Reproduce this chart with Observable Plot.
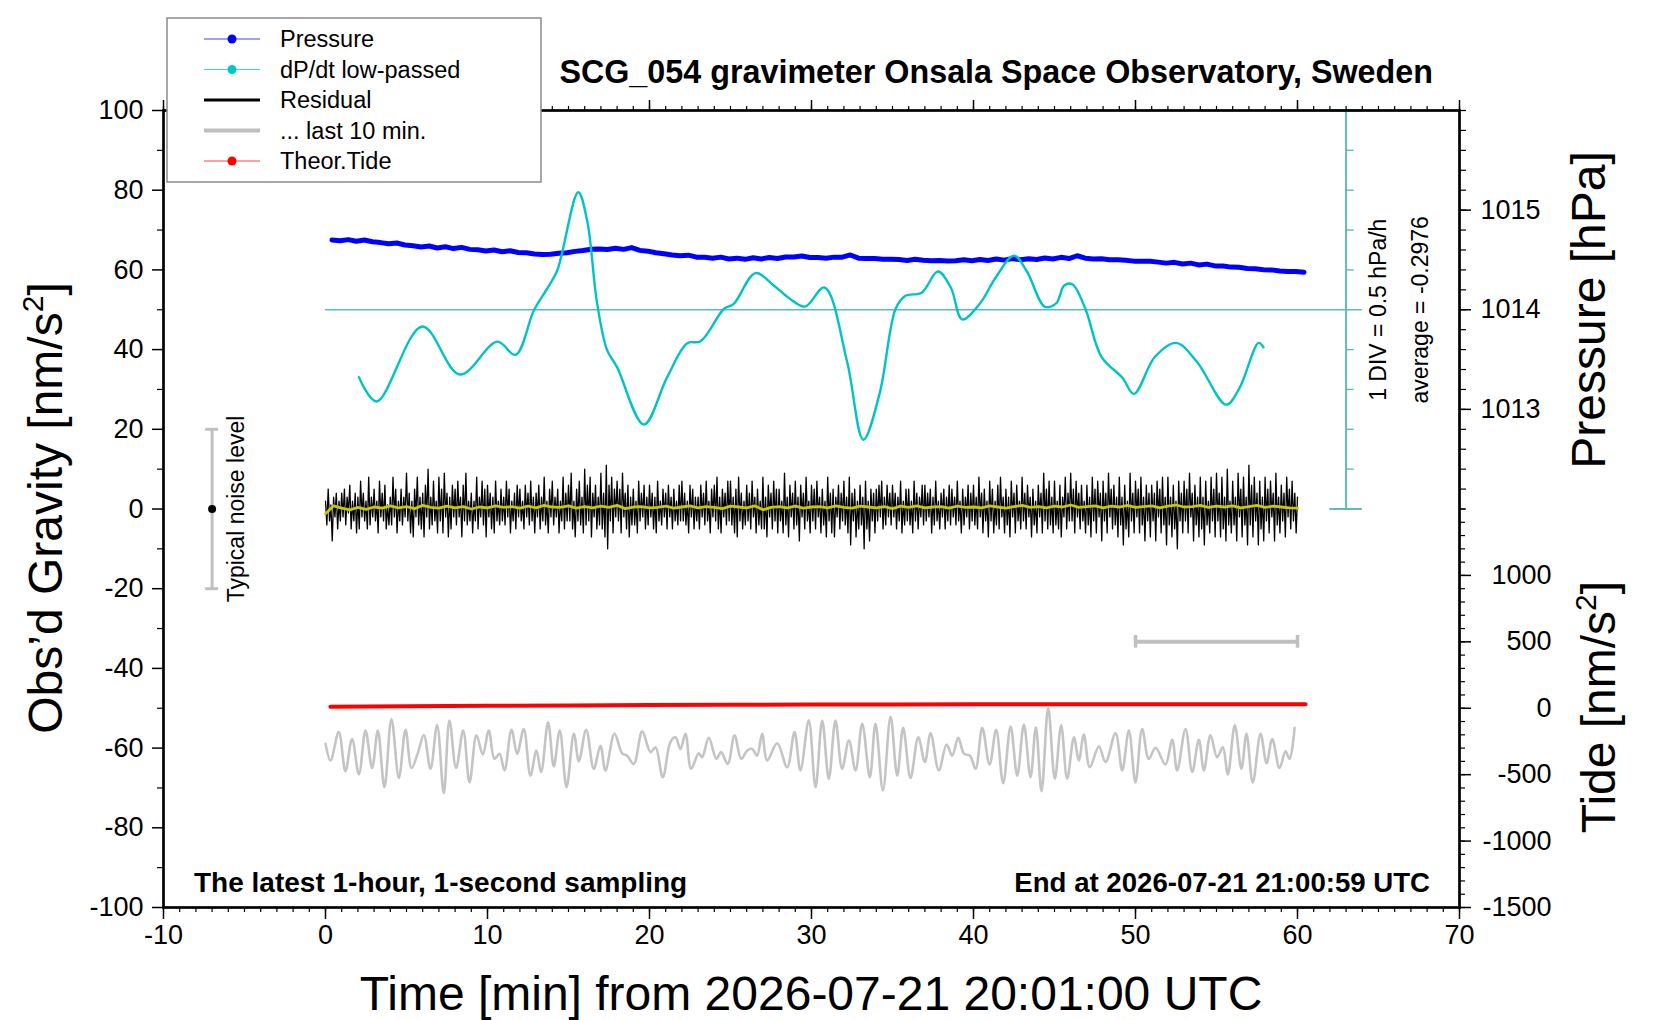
<!DOCTYPE html>
<html>
<head>
<meta charset="utf-8">
<script src="https://cdn.jsdelivr.net/npm/d3@7"></script>
<script src="https://cdn.jsdelivr.net/npm/@observablehq/plot@0.6"></script>
<style>
  html, body { margin: 0; padding: 0; background: #fff; overflow: hidden; }
  svg { display: block; }
</style>
</head>
<body>
<div id="chart"></div>
<script>
// ---------------- DATA ----------------
const titleText = "SCG_054 gravimeter Onsala Space Observatory, Sweden";
const noteLeft = "The latest 1-hour, 1-second sampling";
const noteRight = "End at 2026-07-21 21:00:59 UTC";
const xTitle = "Time [min] from 2026-07-21 20:01:00 UTC";

const xMajorTicks = [-10, 0, 10, 20, 30, 40, 50, 60, 70];
const yMajorTicks = [-100, -80, -60, -40, -20, 0, 20, 40, 60, 80, 100];
const pressureLabelTicks = [1013, 1014, 1015];
const tideLabelTicks = [-1500, -1000, -500, 0, 500, 1000];

// Pressure [hPa], one value every 0.5 min starting at 0.4 min
const pressureStart = 0.4;
const pressureStep = 0.5;
const pressureHPa = [
  1014.700,1014.692,1014.704,1014.688,1014.700,1014.682,1014.674,1014.662,1014.670,1014.650,
  1014.642,1014.630,1014.640,1014.620,1014.632,1014.614,1014.626,1014.606,1014.602,1014.590,
  1014.600,1014.582,1014.592,1014.574,1014.572,1014.560,1014.554,1014.558,1014.568,1014.572,
  1014.586,1014.594,1014.608,1014.610,1014.604,1014.618,1014.606,1014.624,1014.596,1014.588,
  1014.572,1014.562,1014.550,1014.542,1014.548,1014.528,1014.526,1014.516,1014.528,1014.510,
  1014.518,1014.506,1014.522,1014.510,1014.524,1014.514,1014.530,1014.530,1014.540,1014.524,
  1014.524,1014.516,1014.528,1014.528,1014.550,1014.518,1014.514,1014.514,1014.508,1014.508,
  1014.504,1014.494,1014.506,1014.496,1014.492,1014.494,1014.490,1014.492,1014.502,1014.492,
  1014.504,1014.494,1014.510,1014.498,1014.514,1014.502,1014.512,1014.504,1014.520,1014.510,
  1014.526,1014.514,1014.542,1014.518,1014.510,1014.512,1014.502,1014.502,1014.496,1014.488,
  1014.486,1014.486,1014.478,1014.468,1014.476,1014.460,1014.468,1014.450,1014.458,1014.440,
  1014.440,1014.428,1014.426,1014.414,1014.412,1014.402,1014.400,1014.388,1014.384,1014.384,
  1014.376
];

// dP/dt low-passed [hPa/h]
const dpdtAverage = -0.2976;
const hPaPerDiv = 0.5;
const dpdtTimes = [2.06,3.15,5.97,8.29,10.6,11.73,12.86,13.68,14.3,15.6,16.15,16.77,17.39,18.0,19.65,
  21.09,22.33,23.15,24.59,25.2,26.54,27.67,28.6,29.6,30.8,32.2,33.2,34.2,35.2,35.8,36.8,37.8,38.6,39.3,
  40.4,41.4,42.5,43.3,44.4,45.1,45.6,46.1,46.9,47.9,49.2,49.9,51.2,52.5,53.8,55.6,56.4,57.6,57.9];
const dpdtValues = [-1.143,-1.448,-0.508,-1.110,-0.698,-0.863,-0.308,-0.033,0.192,1.177,0.822,-0.223,
  -0.808,-1.018,-1.738,-1.143,-0.718,-0.693,-0.288,-0.223,0.162,0.007,-0.150,-0.258,-0.018,-0.953,-1.928,
  -1.353,-0.283,-0.123,-0.083,0.182,-0.018,-0.418,-0.218,0.117,0.382,0.182,-0.258,-0.218,0.007,0.022,
  -0.283,-0.888,-1.153,-1.353,-0.888,-0.713,-0.953,-1.488,-1.288,-0.713,-0.768];

// Residual [nm/s^2], one value every 5 s (1/12 min) from 0 to 60 min
const residualStep = 1 / 12;
const residual = [
  2,-4,5,-3,1,-8,3,-2,4,-5,2,-3,    4,-2,5,-4,3,-1,6,-5,2,-3,4,-6,    3,-5,7,-2,4,-3,2,-5,8,-4,3,-2,
  5,-3,2,-6,7,-2,4,-3,6,-5,1,-4,    3,-4,8,-2,5,-6,2,-3,5,-4,3,-2,    9,-3,4,-6,2,-7,5,-2,8,-4,3,-5,
  4,-7,6,-2,10,-5,3,-4,7,-3,2,-6,   8,-3,5,-6,9,-2,4,-7,3,-5,6,-2,    5,-4,7,-2,3,-7,6,-3,9,-4,2,-3,
  4,-6,2,-3,8,-5,3,-2,7,-4,5,-7,    6,-2,4,-5,3,-6,7,-3,2,-4,5,-3,    3,-4,7,-2,5,-6,2,-3,4,-5,6,-2,
  5,-3,2,-5,6,-2,4,-4,7,-3,3,-6,    4,-2,6,-5,3,-3,8,-4,2,-6,5,-2,    7,-4,3,-2,5,-6,2,-3,8,-5,4,-3,
  6,-3,9,-5,2,-7,5,-3,7,-4,3,-6,    10,-4,6,-3,8,-7,4,-2,6,-5,3,-4,   9,-5,4,-7,11,-10,6,-3,8,-6,5,-2,
  7,-3,5,-6,9,-2,4,-5,6,-7,3,-4,    5,-4,2,-6,7,-3,4,-2,6,-5,3,-4,    6,-2,4,-5,3,-6,7,-3,2,-4,5,-2,
  4,-5,6,-2,3,-5,5,-3,2,-4,6,-3,    7,-3,4,-4,2,-6,6,-2,5,-5,3,-3,    3,-5,6,-2,4,-4,7,-3,2,-6,5,-2,
  6,-3,8,-5,3,-6,5,-2,4,-4,7,-3,    7,-4,3,-6,5,-7,8,-3,4,-5,2,-4,    6,-3,4,-5,7,-2,3,-6,5,-4,2,-5,
  8,-5,3,-7,6,-2,4,-5,7,-3,5,-6,    5,-3,2,-6,9,-4,3,-7,6,-2,4,-5,    7,-4,3,-8,6,-2,4,-5,8,-3,2,-6,
  6,-3,5,-5,7,-2,3,-6,5,-4,2,-7,    8,-3,4,-6,5,-7,3,-2,6,-5,4,-3,    7,-4,3,-6,8,-9,4,-3,5,-7,2,-5,
  6,-4,3,-10,7,-5,2,-8,5,-3,4,-6,   5,-3,6,-2,7,-5,3,-4,6,-2,4,-4,    6,-2,4,-5,3,-3,7,-6,2,-4,5,-3,
  5,-4,2,-6,7,-3,4,-5,3,-2,6,-4,    6,-3,4,-2,5,-6,3,-4,7,-3,2,-5,    4,-2,5,-5,3,-3,6,-4,5,-2,3,-4,
  7,-3,2,-6,5,-4,3,-2,6,-5,4,-3,    6,-4,3,-5,8,-2,4,-6,5,-3,2,-7,    7,-3,5,-6,2,-4,6,-5,8,-2,3,-6,
  5,-4,3,-7,7,-2,4,-6,6,-3,2,-5,    8,-3,4,-5,6,-2,3,-7,5,-4,2,-6,    6,-2,4,-6,9,-3,5,-5,7,-4,3,-6,
  7,-4,2,-5,6,-7,3,-2,8,-5,4,-3,    9,-3,5,-6,7,-2,4,-5,6,-3,2,-6,    6,-4,3,-7,8,-3,5,-6,7,-2,4,-8,
  7,-3,4,-6,9,-2,5,-5,6,-4,3,-7,    8,-4,3,-9,6,-5,2,-7,9,-3,4,-6,    7,-2,5,-6,8,-4,3,-8,6,-3,4,-7,
  6,-3,4,-8,7,-2,5,-6,8,-4,3,-9,    8,-4,3,-7,6,-5,2,-10,7,-3,4,-6,   7,-3,5,-6,9,-2,4,-8,6,-4,3,-7,
  8,-5,3,-9,7,-4,2,-6,8,-3,5,-7,    9,-3,4,-7,8,-5,3,-8,10,-4,2,-6,   7,-4,3,-8,9,-2,5,-7,8,-4,3,-9,
  11,-4,6,-7,8,-3,4,-9,7,-5,3,-8,   8,-3,5,-6,7,-2,4,-8,9,-4,3,-6,    6,-3,4,-7,8,-2,5,-5,7,-3,4,-6,
  3
];

// Smoothed residual (yellow), one value every 0.5 min
const residualSmoothStep = 0.5;
const residualSmooth = [
  -1.2,0.8,0.2,-0.2,0.4,-0.1,0.5,0.2,0.8,0.3,0.6,0.1,0.9,0.4,0.2,0.7,0.3,0.6,0.0,0.5,0.3,
  0.8,0.4,0.6,0.2,0.7,0.3,0.9,0.5,0.4,0.8,0.2,0.6,0.3,0.7,0.4,0.9,0.1,0.5,0.6,0.3,
  0.4,0.7,0.2,0.5,0.8,0.3,0.6,0.4,0.1,0.7,0.5,0.3,0.8,-0.2,0.4,0.6,0.3,0.7,0.2,0.5,
  0.6,0.3,0.8,0.4,0.2,0.7,0.5,0.3,0.6,0.1,0.7,0.4,0.8,0.3,0.5,0.6,0.2,0.7,0.4,0.5,
  0.3,0.8,0.5,0.2,0.6,0.9,0.4,0.6,0.3,0.7,0.5,1.0,0.4,0.6,0.8,0.3,0.7,0.5,0.9,0.4,
  0.6,0.8,0.3,0.7,1.0,0.5,0.6,0.9,0.4,0.7,0.5,0.8,0.3,0.6,0.9,0.4,0.7,0.5,0.3,0.2
];

// "... last 10 min." trace (stretched over the hour, drawn at an offset), extrema
const last10Times = [0.00,0.31,0.82,1.23,1.64,2.06,2.47,2.88,3.23,3.64,4.07,4.53,4.94,5.31,5.72,6.07,6.48,
  6.89,7.30,7.65,8.06,8.50,8.89,9.32,9.71,10.08,10.43,10.74,11.05,11.48,11.83,12.24,12.65,13.02,13.31,
  13.74,14.09,14.46,14.88,15.33,15.64,16.09,16.56,16.97,17.28,17.84,18.31,18.62,19.03,19.55,20.06,20.37,
  20.82,21.29,21.60,21.91,22.22,22.57,23.04,23.25,23.66,24.13,24.42,24.83,25.25,25.66,26.03,26.34,26.64,
  26.95,27.26,27.88,28.50,28.95,29.32,29.83,30.25,30.66,31.07,31.48,31.89,32.31,32.72,33.13,33.60,33.95,
  34.41,34.88,35.29,35.66,36.11,36.59,37.00,37.35,37.86,38.34,38.68,39.06,39.41,39.78,40.13,40.54,40.99,
  41.40,41.83,42.29,42.70,43.11,43.52,43.85,44.20,44.61,45.02,45.41,45.78,46.20,46.50,46.81,47.18,47.74,
  48.15,48.77,49.18,49.59,50.00,50.41,50.82,51.24,51.85,52.27,52.57,53.09,53.50,53.91,54.22,54.63,55.04,
  55.39,55.70,56.13,56.54,56.85,57.24,57.72,58.09,58.44,58.89,59.26,59.51,59.82];
const last10Values = [-58.9,-63.1,-56.0,-65.8,-57.7,-66.6,-55.6,-65.0,-55.6,-69.8,-52.7,-67.5,-55.4,-65.0,
  -61.0,-56.7,-65.2,-54.2,-71.3,-53.1,-65.0,-55.6,-68.6,-56.8,-61.6,-55.6,-62.7,-61.4,-65.6,-55.4,-61.4,
  -55.2,-66.9,-60.6,-66.0,-53.5,-64.6,-55.6,-69.8,-56.4,-63.3,-55.4,-65.2,-59.4,-65.6,-56.4,-61.3,-61.9,
  -64.0,-55.8,-61.0,-59.8,-67.3,-58.5,-57.3,-60.2,-56.4,-65.2,-61.3,-62.3,-57.4,-62.7,-61.0,-64.0,-56.8,
  -62.7,-60.6,-60.2,-61.9,-56.4,-63.1,-58.8,-64.8,-56.0,-65.6,-53.0,-69.8,-53.1,-67.7,-53.1,-65.2,-58.1,
  -65.6,-53.9,-67.3,-53.9,-70.6,-52.1,-66.9,-54.9,-67.5,-57.3,-63.5,-56.3,-65.6,-59.1,-61.9,-57.4,-61.4,
  -61.9,-65.2,-54.9,-64.1,-55.4,-68.8,-54.6,-66.9,-54.1,-67.3,-54.8,-70.8,-49.9,-67.7,-54.3,-67.7,-57.3,
  -63.1,-56.6,-64.8,-59.6,-63.5,-56.3,-65.6,-55.6,-68.6,-55.2,-62.7,-59.9,-64.1,-57.9,-65.6,-55.2,-66.0,
  -57.9,-65.6,-56.8,-62.3,-59.8,-66.6,-54.3,-65.2,-56.4,-68.6,-56.4,-63.8,-57.7,-65.0,-60.8,-62.7,-54.9];

// Theoretical tide [nm/s^2]
const tideTimes = [0.3, 5, 10, 15, 20, 25, 30, 35, 40, 45, 50, 55, 60.5];
const tideValues = [11, 15, 18.5, 21.5, 24, 26, 27.5, 28.7, 29.5, 30, 30.2, 30.1, 29.8];

// Typical noise level and 10-min scale bar
const noiseTime = -7, noiseHalf = 20;
const last10BarStart = 50, last10BarEnd = 60, last10BarTide = 500;

const legendItems = [
  { label: "Pressure", color: "#0000ff", width: 1, dot: true },
  { label: "dP/dt low-passed", color: "#00c8c8", width: 1, dot: true },
  { label: "Residual", color: "#000000", width: 3, dot: false },
  { label: "... last 10 min.", color: "#c0c0c0", width: 4, dot: false },
  { label: "Theor.Tide", color: "#ff0000", width: 1, dot: true }
];

// ---------------- secondary-axis transforms onto the gravity scale ----------------
const gP = p => 50 + (p - 1014) * 25;        // pressure hPa -> plot units
const gT = t => -50 + t / 30;                // tide nm/s^2 -> plot units
const gD = v => 50 + (v - dpdtAverage) / hPaPerDiv * 10; // dP/dt -> plot units (1 DIV = 10)
const P_of = g => 1014 + (g - 50) / 25;
const T_of = g => (g + 50) * 30;

const pressureData = pressureHPa.map((p, i) => ({ t: pressureStart + i * pressureStep, g: gP(p) }));
const dpdtData = dpdtTimes.map((t, i) => ({ t, g: gD(dpdtValues[i]) }));
const residualData = residual.map((v, i) => ({ t: i * residualStep, g: v }));
const smoothData = residualSmooth.map((v, i) => ({ t: i * residualSmoothStep, g: v }));
const last10Data = last10Times.map((t, i) => ({ t, g: last10Values[i] })).filter(d => d.g !== undefined);
const tideData = tideTimes.map((t, i) => ({ t, g: gT(tideValues[i]) }));

const pressureMinor = d3.range(0, 21).map(i => 1012 + i * 0.2);
const tideMinor = d3.range(-1500, 1501, 100);
const TEAL = "#5cbcbc";
const GREY = "#c0c0c0";
const FONT = "'Liberation Sans', Arial, Helvetica, sans-serif";
const plain = d => String(d);

const plot = Plot.plot({
  width: 1660,
  height: 1020,
  marginLeft: 163,
  marginRight: 201,
  marginTop: 110,
  marginBottom: 113,
  x: { domain: [-10, 70] },
  y: { domain: [-100, 100] },
  style: { fontFamily: FONT, fontSize: "27px", background: "white", color: "black", overflow: "visible" },
  marks: [
    // dP/dt reference axis
    Plot.ruleY([50], { x1: 0, x2: 64, stroke: TEAL, strokeWidth: 1.6 }),
    Plot.ruleX([63], { y1: 0, y2: 100, stroke: TEAL, strokeWidth: 2 }),
    Plot.ruleY([0, 100], { x1: 62, x2: 64, stroke: TEAL, strokeWidth: 2 }),
    Plot.ruleY([10, 20, 30, 40, 60, 70, 80, 90], { x1: 63, x2: 63.5, stroke: TEAL, strokeWidth: 1.4 }),
    // series
    Plot.line(pressureData, { x: "t", y: "g", stroke: "#0000ff", strokeWidth: 5 }),
    Plot.line(dpdtData, { x: "t", y: "g", stroke: "#00c4c4", strokeWidth: 2.4, curve: "catmull-rom" }),
    Plot.line(residualData, { x: "t", y: "g", stroke: "black", strokeWidth: 1.3 }),
    Plot.line(smoothData, { x: "t", y: "g", stroke: "#c8c800", strokeWidth: 2.8 }),
    Plot.line(tideData, { x: "t", y: "g", stroke: "#ff0000", strokeWidth: 4, curve: "monotone-x" }),
    Plot.line(last10Data, { x: "t", y: "g", stroke: "#c4c4c4", strokeWidth: 2.6, curve: "catmull-rom" }),
    // typical noise level
    Plot.ruleX([noiseTime], { y1: -noiseHalf, y2: noiseHalf, stroke: GREY, strokeWidth: 3 }),
    Plot.ruleY([-noiseHalf, noiseHalf], { x1: noiseTime - 0.4, x2: noiseTime + 0.4, stroke: GREY, strokeWidth: 3 }),
    Plot.dot([{ t: noiseTime, g: 0 }], { x: "t", y: "g", r: 4, fill: "black" }),
    Plot.text(["Typical noise level"], { x: noiseTime + 1.5, y: 0, text: d => d, rotate: -90, fontSize: 23, lineAnchor: "middle", fill: "black" }),
    // last 10 min scale bar
    Plot.ruleY([gT(last10BarTide)], { x1: last10BarStart, x2: last10BarEnd, stroke: GREY, strokeWidth: 4 }),
    Plot.ruleX([last10BarStart, last10BarEnd], { y1: gT(last10BarTide) - 1.6, y2: gT(last10BarTide) + 1.6, stroke: GREY, strokeWidth: 3.5 }),
    // dP/dt notes
    Plot.text([`1 DIV = ${hPaPerDiv} hPa/h`], { x: 65.0, y: 50, text: d => d, rotate: -90, fontSize: 23, lineAnchor: "middle", fill: "black" }),
    Plot.text([`average = ${dpdtAverage}`], { x: 67.6, y: 50, text: d => d, rotate: -90, fontSize: 23, lineAnchor: "middle", fill: "black" }),
    // frame
    Plot.frame({ stroke: "black", strokeWidth: 2.7 }),
    // axes
    Plot.axisX({ anchor: "bottom", ticks: xMajorTicks, tickSize: 12, tickPadding: 5, fontSize: 27, strokeWidth: 1.5, tickFormat: plain, label: null }),
    Plot.axisX({ anchor: "bottom", ticks: d3.range(-10, 71, 1), tickSize: 5, tickFormat: () => "", strokeWidth: 1.2, label: null }),
    Plot.axisX({ anchor: "top", ticks: xMajorTicks, tickSize: 11, tickFormat: () => "", strokeWidth: 1.5, label: null }),
    Plot.axisX({ anchor: "top", ticks: d3.range(-10, 71, 1), tickSize: 5, tickFormat: () => "", strokeWidth: 1.2, label: null }),
    Plot.axisY({ anchor: "left", ticks: yMajorTicks, tickSize: 11, tickPadding: 9, fontSize: 27, strokeWidth: 1.5, tickFormat: plain, label: null }),
    Plot.axisY({ anchor: "left", ticks: d3.range(-90, 100, 20), tickSize: 6, tickFormat: () => "", strokeWidth: 1.2, label: null }),
    Plot.axisY({ anchor: "right", ticks: pressureLabelTicks.map(gP), tickSize: 11, tickPadding: 10, fontSize: 27,
      tickFormat: g => String(Math.round(P_of(g))), strokeWidth: 1.5, label: null }),
    Plot.axisY({ anchor: "right", ticks: pressureMinor.map(gP), tickSize: 6, tickFormat: () => "", strokeWidth: 1.2, label: null }),
    Plot.axisY({ anchor: "right", ticks: tideLabelTicks.map(gT), tickSize: 11, tickPadding: 81, fontSize: 27, textAnchor: "end",
      tickFormat: g => String(Math.round(T_of(g))), strokeWidth: 1.5, label: null }),
    Plot.axisY({ anchor: "right", ticks: tideMinor.map(gT), tickSize: 5, tickFormat: () => "", strokeWidth: 1.2, label: null })
  ]
});

document.getElementById("chart").appendChild(plot);
const svg = d3.select(plot);

// Title and notes
svg.append("text").attr("x", 1433).attr("y", 83).attr("text-anchor", "end")
  .attr("font-family", FONT).attr("font-weight", "bold").attr("font-size", 32.3).text(titleText);
svg.append("text").attr("x", 194).attr("y", 892).attr("text-anchor", "start")
  .attr("font-family", FONT).attr("font-weight", "bold").attr("font-size", 28).text(noteLeft);
svg.append("text").attr("x", 1430).attr("y", 892).attr("text-anchor", "end")
  .attr("font-family", FONT).attr("font-weight", "bold").attr("font-size", 27.6).text(noteRight);

// Axis titles
svg.append("text").attr("x", 811).attr("y", 1010).attr("text-anchor", "middle")
  .attr("font-family", FONT).attr("font-size", 48).text(xTitle);

function rotTitle(x, y, before, sup, after) {
  const t = svg.append("text").attr("transform", `translate(${x},${y}) rotate(-90)`)
    .attr("text-anchor", "middle").attr("font-family", FONT).attr("font-size", 48);
  t.append("tspan").text(before);
  if (sup) {
    t.append("tspan").attr("font-size", 30).attr("dy", -19).text(sup);
    t.append("tspan").attr("dy", 19).text(after);
  }
}
rotTitle(62, 508, "Obs’d Gravity [nm/s", "2", "]");
rotTitle(1605, 310, "Pressure [hPa]");
rotTitle(1615, 707, "Tide [nm/s", "2", "]");

// Legend
const lg = svg.append("g");
lg.append("rect").attr("x", 167).attr("y", 18).attr("width", 374).attr("height", 164)
  .attr("fill", "white").attr("stroke", "#8a8a8a").attr("stroke-width", 1.5);
legendItems.forEach((d, i) => {
  const y = 39 + i * 30.5;
  lg.append("line").attr("x1", 204).attr("x2", 260).attr("y1", y).attr("y2", y)
    .attr("stroke", d.color).attr("stroke-width", d.width).attr("stroke-opacity", d.dot ? 0.75 : 1);
  if (d.dot) lg.append("circle").attr("cx", 232).attr("cy", y).attr("r", 4.5).attr("fill", d.color);
  lg.append("text").attr("x", 280).attr("y", y).attr("dy", "0.36em").attr("text-anchor", "start")
    .attr("font-family", FONT).attr("font-size", 23.5).text(d.label);
});
</script>
</body>
</html>
